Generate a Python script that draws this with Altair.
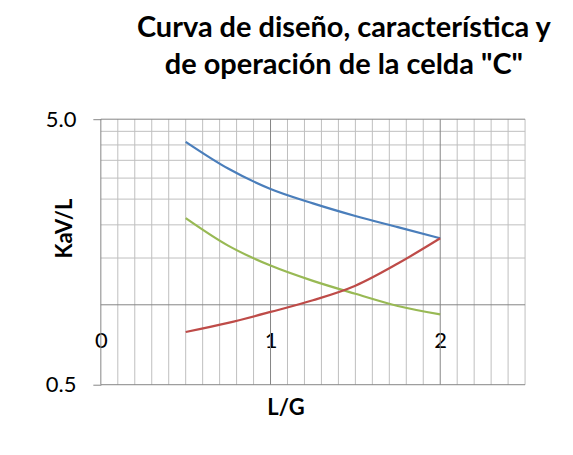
import altair as alt
import pandas as pd

# L/G values at which the curves were read
lg = [0.5, 0.75, 1.0, 1.25, 1.5, 1.75, 2.0]
# KaV/L values
diseno = [4.11, 3.26, 2.73, 2.41, 2.16, 1.96, 1.78]
caracteristica = [2.12, 1.67, 1.405, 1.23, 1.10, 0.99, 0.92]
operacion = [0.79, 0.855, 0.94, 1.04, 1.18, 1.43, 1.78]

series_names = ["Diseño", "Característica", "Operación"]
series_colors = ["#4A7EBB", "#98B954", "#BE4B48"]

x_ticks = [0, 1, 2]
y_ticks = [0.5, 5.0]
x_major_grid = [0, 1, 2]
x_minor_grid = [0.1, 0.2, 0.3, 0.4, 0.5, 0.6, 0.7, 0.8, 0.9,
                1.1, 1.2, 1.3, 1.4, 1.5, 1.6, 1.7, 1.8, 1.9,
                2.1, 2.2, 2.3, 2.4, 2.5]
y_major_grid = [0.5, 1.0, 5.0]
y_minor_grid = [1.5, 2.0, 2.5, 3.0, 3.5, 4.0, 4.5]

rows = []
for name, vals in zip(series_names, [diseno, caracteristica, operacion]):
    for i, (a, b) in enumerate(zip(lg, vals)):
        rows.append({"serie": name, "LG": a, "KaVL": b, "i": i})
df = pd.DataFrame(rows)

xs = alt.Scale(domain=[0, 2.5], nice=False, zero=False)
ys = alt.Scale(type="log", domain=[0.5, 5.0], nice=False)

FONT = "Lato"

x_axis = alt.Axis(
    values=x_ticks, format="d", title="L/G", grid=False, domain=False,
    ticks=False, tickSize=0, labelPadding=0, labelBaseline="middle",
    labelFlush=False, offset=-44, labelFont=FONT, labelFontSize=22,
    labelColor="#000000", titleFont=FONT, titleFontSize=22,
    titleFontWeight="bold", titleColor="#000000", titleX=185, titleY=67,
    titleAlign="center", titleBaseline="middle", labelOverlap=False)
y_axis = alt.Axis(
    values=y_ticks, format=".1f", title="KaV/L", grid=False, domain=False,
    ticks=True, tickSize=8, tickColor="#868686", labelPadding=17,
    labelFont=FONT, labelFontSize=22, labelColor="#000000",
    titleFont=FONT, titleFontSize=22, titleFontWeight="bold",
    titleColor="#000000", titleX=-36, titleY=109, titleAlign="center",
    titleBaseline="middle", titleAngle=270, labelOverlap=False)

minor_v = alt.Chart(pd.DataFrame({"x": x_minor_grid})).mark_rule(
    color="#BFBFBF", strokeWidth=1).encode(x=alt.X("x:Q", scale=xs, axis=x_axis))
minor_h = alt.Chart(pd.DataFrame({"y": y_minor_grid})).mark_rule(
    color="#BFBFBF", strokeWidth=1).encode(y=alt.Y("y:Q", scale=ys, axis=y_axis))
major_v = alt.Chart(pd.DataFrame({"x": x_major_grid})).mark_rule(
    color="#868686", strokeWidth=1).encode(x=alt.X("x:Q", scale=xs, axis=x_axis))
major_h = alt.Chart(pd.DataFrame({"y": y_major_grid})).mark_rule(
    color="#868686", strokeWidth=1).encode(y=alt.Y("y:Q", scale=ys, axis=y_axis))

lines = alt.Chart(df).mark_line(strokeWidth=2.2, interpolate="monotone").encode(
    x=alt.X("LG:Q", scale=xs, axis=x_axis),
    y=alt.Y("KaVL:Q", scale=ys, axis=y_axis),
    color=alt.Color("serie:N", scale=alt.Scale(domain=series_names, range=series_colors),
                    legend=None),
    detail="serie:N",
    order="i:Q",
)

chart = alt.layer(minor_v, minor_h, major_v, major_h, lines).properties(
    width=425, height=266,
    title=alt.TitleParams(
        text=["Curva de diseño, característica y", 'de operación de la celda "C"'],
        font=FONT, fontSize=29, fontWeight="bold", color="#000000",
        anchor="middle", baseline="alphabetic", lineHeight=37, offset=5, dx=31),
    autosize=alt.AutoSizeParams(type="none"),
    padding={"left": 93, "top": 111, "right": 40, "bottom": 60},
    background="#FFFFFF",
).configure_view(stroke=None)

chart.save("out.html", embed_options={"renderer": "svg", "actions": False})
